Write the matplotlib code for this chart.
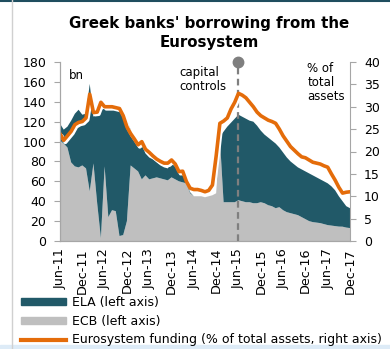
import matplotlib
matplotlib.use("Agg")
import matplotlib.pyplot as plt
import matplotlib.patheffects as pe
from matplotlib.patches import Patch, Rectangle
from matplotlib.lines import Line2D
import pandas as pd

# monthly, Jun-11 .. Dec-17
months = list(pd.date_range("2011-06-01", periods=79, freq="MS").strftime("%b-%y"))

# ECB funding, EUR bn (left axis)
ecb = [101, 98, 94, 79, 75, 74, 76, 73, 50, 78,
       38, 3, 75, 24, 31, 30, 5, 6, 20, 76,
       73, 70, 62, 66, 62, 63, 64, 63, 62, 61,
       64, 62, 60, 59, 58, 48, 45, 45, 45, 44,
       45, 46, 48, 103, 39, 39, 39, 39, 41, 40,
       39, 39, 38, 38, 39, 38, 36, 35, 33, 34,
       31, 29, 28, 27, 26, 24, 22, 20, 19, 18.5,
       18, 17, 16, 15.5, 15, 14.5, 14.4, 13.5, 13]

# ELA, EUR bn (left axis)
ela = [17, 14, 21, 42, 53, 58, 51, 55, 108, 47,
       90, 129, 58, 109, 101, 102, 126, 122, 101, 36,
       29, 24, 34, 22, 22, 19, 15, 13, 12, 12,
       14, 13, 8, 7, 2, 1, 0, 0, 0, 0,
       0, 0, 0, 2, 71, 76, 80, 84, 86, 85,
       84, 82, 82, 78, 72, 69, 68, 66, 65, 60,
       58, 55, 52, 50, 48, 48, 48, 48, 47, 45.5,
       44, 43, 42, 39.5, 36, 30.5, 25.6, 21.5, 20]

# Eurosystem funding, % of total assets (right axis)
funding_pct = [24, 22.5, 23.5, 24.5, 26, 26.5, 26.7, 27.5, 32.8, 28.7,
               28.8, 31, 30, 30, 30, 29.8, 29.6, 28, 25.5, 24,
               22.8, 21.5, 22.2, 20.5, 19.8, 19, 18.3, 17.8, 17.4, 17.4,
               18.1, 17.2, 15.5, 15.6, 13.3, 11.8, 11.5, 11.5, 11.3, 11,
               11.3, 12.5, 19, 26.3, 26.8, 27.5, 29.5, 31, 33, 32.6,
               32, 31, 30, 28.8, 28, 27.5, 27, 26.7, 26.3, 25,
               23.5, 22.3, 21.1, 20.3, 19.5, 18.8, 18.6, 18.1, 17.6, 17.4,
               17.2, 16.8, 16.5, 15, 13.6, 12, 10.7, 10.9, 11]

capital_controls = "Jun-15"

teal = "#215968"
grey = "#BFBFBF"
orange = "#E46C0A"
axis_col = "#A6A6A6"

x = list(range(len(months)))

fig = plt.figure(figsize=(3.9, 3.49), dpi=100)
ax = fig.add_axes([60 / 390, 1 - 241 / 349, 290 / 390, 179 / 349])
ax2 = ax.twinx()

ax.stackplot(x, ecb, ela, colors=[grey, teal], linewidth=0)
ax2.plot(x, funding_pct, color=orange, lw=2.6, solid_capstyle="round",
         path_effects=[pe.SimpleLineShadow(offset=(1.2, -1.5), shadow_color="white", alpha=1.0),
                       pe.Normal()])

cc = months.index(capital_controls)
ax.axvline(cc, color="#7F7F7F", lw=1.6, ls=(0, (3, 2)), zorder=3)
ax.plot([cc], [180], marker="o", ms=7.5, color="#7F7F7F", clip_on=False, zorder=4)

ax.set_xlim(0, len(months) - 1)
ax.set_ylim(0, 180)
ax2.set_ylim(0, 40)
ax.set_yticks(range(0, 181, 20))
ax2.set_yticks(range(0, 41, 5))
ax.set_xticks(x[::6])
ax.set_xticklabels(months[::6])
ax.tick_params(axis="x", length=0, pad=5, labelrotation=90, labelsize=9.2)
plt.setp(ax.get_xticklabels(), rotation=90, ha="center", va="top")
ax.tick_params(axis="y", labelsize=9, direction="out", length=4, color=axis_col, pad=6)
ax2.tick_params(axis="y", labelsize=9, direction="out", length=4, color=axis_col, pad=6)

for a in (ax, ax2):
    a.spines["top"].set_visible(False)
    for s in ("left", "right", "bottom"):
        a.spines[s].set_color(axis_col)
ax.spines["right"].set_visible(False)

ax.text(2.5, 173, "bn", fontsize=8.5, va="top")
ax.text(32, 176, "capital\ncontrols", fontsize=8.5, va="top", linespacing=1.1)
ax.text(66.5, 180, "% of\ntotal\nassets", fontsize=8.5, va="top", linespacing=1.1)

fig.text(209 / 390, 1 - 33 / 349, "Greek banks' borrowing from the\nEurosystem",
         ha="center", va="center", fontsize=10.8, fontweight="bold", linespacing=1.3)

handles = [Patch(color=teal), Patch(color=grey), Line2D([], [], color=orange, lw=3)]
labels = ["ELA (left axis)", "ECB (left axis)",
          "Eurosystem funding (% of total assets, right axis)"]
fig.legend(handles, labels, loc="upper left", bbox_to_anchor=(20 / 390, 1 - 295 / 349),
           frameon=False, fontsize=9.0, handlelength=3.6, handleheight=0.5,
           handletextpad=0.45, labelspacing=0.45, borderaxespad=0, borderpad=0.1)

# frame decoration
fig.add_artist(Line2D([0, 1], [0.997, 0.997], color="#1F4E5F", lw=1.5))
fig.add_artist(Line2D([12 / 390, 12 / 390], [0, 1], color="#D0D0D0", lw=1))
fig.add_artist(Rectangle((0, 0), 1, 4 / 349, color="#DDEBF7", transform=fig.transFigure))

fig.savefig("out.png", dpi=100)
